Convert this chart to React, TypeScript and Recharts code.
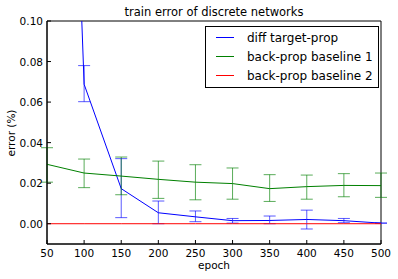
import { LineChart, Line, XAxis, YAxis, ErrorBar, Legend, ReferenceArea } from 'recharts';

const epochs = [50, 100, 150, 200, 250, 300, 350, 400, 450, 500];

// diff target-prop (blue), mean and error bar bounds
const diffTargetProp = [0.57, 0.0688, 0.0173, 0.0054, 0.0034, 0.0015, 0.0016, 0.0021, 0.0015, 0.0003];
const diffLow = [0.57, 0.0602, 0.003, 0.0, 0.001, 0.0003, 0.0, -0.0026, 0.0005, 0.0003];
const diffHigh = [0.57, 0.078, 0.0321, 0.0112, 0.0063, 0.0026, 0.0038, 0.0067, 0.0026, 0.0003];

// back-prop baseline 1 (green)
const baseline1 = [0.0293, 0.025, 0.0235, 0.0219, 0.0205, 0.0198, 0.0173, 0.0183, 0.0189, 0.0188];
const b1Low = [0.0205, 0.0178, 0.0143, 0.0125, 0.0118, 0.0121, 0.011, 0.0121, 0.0133, 0.013];
const b1High = [0.0375, 0.0319, 0.0329, 0.0309, 0.0291, 0.0275, 0.0242, 0.024, 0.0247, 0.025];

// back-prop baseline 2 (red)
const baseline2 = [0, 0, 0, 0, 0, 0, 0, 0, 0, 0];

const xTicks = [50, 100, 150, 200, 250, 300, 350, 400, 450, 500];
const yTicks = [0, 0.02, 0.04, 0.06, 0.08, 0.1];

const colors: Record<string, string> = { diff: '#0000ff', b1: '#008000', b2: '#ff0000' };

const data = epochs.map((epoch, i) => ({
  epoch,
  diff: diffTargetProp[i],
  diffErr: [diffTargetProp[i] - diffLow[i], diffHigh[i] - diffTargetProp[i]],
  b1: baseline1[i],
  b1Err: [baseline1[i] - b1Low[i], b1High[i] - baseline1[i]],
  b2: baseline2[i],
}));

const font = '"DejaVu Sans", sans-serif';
const frame = { stroke: '#000', strokeWidth: 1 };

const BottomTick = (props: any) => {
  const { x, y, payload } = props;
  return (
    <g>
      <line x1={x} y1={y} x2={x} y2={y - 4} stroke="#000" />
      <text x={x} y={y + 13} textAnchor="middle" fontSize={10.5} fill="#000" fontFamily={font}>
        {payload.value}
      </text>
    </g>
  );
};

const LeftTick = (props: any) => {
  const { x, y, payload } = props;
  return (
    <g>
      <line x1={x} y1={y} x2={x + 4} y2={y} stroke="#000" />
      <text x={x - 4} y={y + 4} textAnchor="end" fontSize={10.5} fill="#000" fontFamily={font}>
        {Number(payload.value).toFixed(2)}
      </text>
    </g>
  );
};

const TopTick = (props: any) => {
  const { x, y } = props;
  return <line x1={x} y1={y} x2={x} y2={y + 4} stroke="#000" />;
};

const RightTick = (props: any) => {
  const { x, y } = props;
  return <line x1={x} y1={y} x2={x - 4} y2={y} stroke="#000" />;
};

const YLabel = () => {
  const cx = 11;
  const cy = 133;
  return (
    <text x={cx} y={cy} transform={`rotate(-90, ${cx}, ${cy})`} textAnchor="middle" dominantBaseline="central" fontSize={10.5} fill="#000" fontFamily={font}>
      error (%)
    </text>
  );
};

const renderLegend = (props: any) => {
  const { payload } = props;
  return (
    <div
      style={{
        width: 172,
        height: 60,
        border: '1px solid #000',
        background: '#fff',
        fontFamily: font,
        fontSize: 12,
        boxSizing: 'content-box',
        textAlign: 'left',
      }}
    >
      {payload.map((entry: any, i: number) => (
        <div key={i} style={{ display: 'flex', alignItems: 'center', height: 19, marginTop: i === 0 ? 1 : 0 }}>
          <div
            style={{
              width: 18,
              height: 1,
              background: colors[entry.dataKey] ?? entry.color,
              marginLeft: 10,
              marginRight: 13,
            }}
          />
          <span style={{ color: '#000', whiteSpace: 'nowrap' }}>{entry.value}</span>
        </div>
      ))}
    </div>
  );
};

export default function App() {
  return (
    <div style={{ position: 'relative', width: 398, height: 279, background: '#fff', fontFamily: font }}>
      <style>{'body{margin:0}'}</style>
      <LineChart width={398} height={279} data={data} margin={{ top: 21, right: 17, bottom: 0, left: 0 }}>
        <XAxis
          dataKey="epoch"
          type="number"
          domain={[50, 500]}
          ticks={xTicks}
          allowDataOverflow
          height={35}
          tickSize={0}
          tickMargin={0}
          tick={<BottomTick />}
          axisLine={frame}
          label={{ value: 'epoch', position: 'insideBottom', offset: 10, fontSize: 10.5, fill: '#000', fontFamily: font }}
        />
        <XAxis
          xAxisId="top"
          orientation="top"
          type="number"
          domain={[50, 500]}
          ticks={xTicks}
          allowDataOverflow
          height={0}
          tickSize={0}
          tickMargin={0}
          tick={<TopTick />}
          axisLine={frame}
        />
        <YAxis
          type="number"
          domain={[-0.01, 0.1]}
          ticks={yTicks}
          allowDataOverflow
          width={47}
          tickSize={0}
          tickMargin={0}
          tick={<LeftTick />}
          axisLine={frame}
          label={<YLabel />}
        />
        <YAxis
          yAxisId="right"
          orientation="right"
          type="number"
          domain={[-0.01, 0.1]}
          ticks={yTicks}
          allowDataOverflow
          width={0}
          tickSize={0}
          tickMargin={0}
          tick={<RightTick />}
          axisLine={frame}
        />
        <ReferenceArea x1={50} x2={500} y1={-0.01} y2={0.1} fill="none" stroke="#000" strokeWidth={1} ifOverflow="visible" />
        <Legend
          content={renderLegend}
          layout="horizontal"
          verticalAlign="middle"
          align="center"
          itemSorter={null}
          wrapperStyle={{ top: 26, left: 205, width: 174 }}
        />
        <Line
          name="diff target-prop"
          dataKey="diff"
          stroke={colors.diff}
          strokeWidth={1}
          dot={false}
          isAnimationActive={false}
        >
          <ErrorBar dataKey="diffErr" width={6} stroke={colors.diff} strokeOpacity={0.65} strokeWidth={1} direction="y" />
        </Line>
        <Line
          name="back-prop baseline 1"
          dataKey="b1"
          stroke={colors.b1}
          strokeWidth={1}
          dot={false}
          isAnimationActive={false}
        >
          <ErrorBar dataKey="b1Err" width={6} stroke={colors.b1} strokeOpacity={0.65} strokeWidth={1} direction="y" />
        </Line>
        <Line
          name="back-prop baseline 2"
          dataKey="b2"
          stroke={colors.b2}
          strokeWidth={1}
          dot={false}
          isAnimationActive={false}
        />
      </LineChart>
      <div
        style={{
          position: 'absolute',
          left: 47,
          width: 334,
          top: 5,
          textAlign: 'center',
          fontSize: 11.5,
          lineHeight: '14px',
          color: '#000',
        }}
      >
        train error of discrete networks
      </div>
    </div>
  );
}
